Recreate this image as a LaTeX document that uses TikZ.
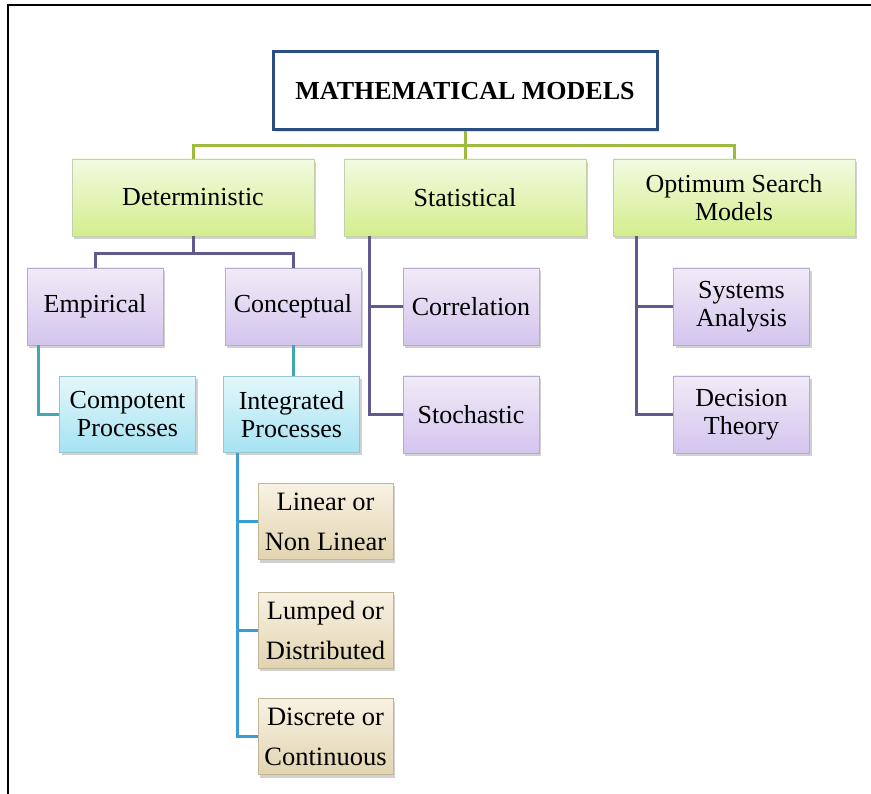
\documentclass[tikz,border=0pt]{standalone}
\usepackage{fontspec}
\setmainfont{Liberation Serif}
\usetikzlibrary{shadows}

% palette
\definecolor{titleB}{HTML}{2B4E82}
\definecolor{grnT}{HTML}{F3FAE2}
\definecolor{grnM}{HTML}{D3EE8C}
\definecolor{grnB}{HTML}{C5CFAE}
\definecolor{purT}{HTML}{F1EBF7}
\definecolor{purM}{HTML}{D4C4EE}
\definecolor{purB}{HTML}{B6ABCF}
\definecolor{bluT}{HTML}{E3F7FB}
\definecolor{bluM}{HTML}{A6E3F2}
\definecolor{bluB}{HTML}{98C6D0}
\definecolor{tanT}{HTML}{F8F2E3}
\definecolor{tanM}{HTML}{E2D4B0}
\definecolor{tanB}{HTML}{C2B696}
\definecolor{lineG}{HTML}{9DBB3F}
\definecolor{lineP}{HTML}{605A8E}
\definecolor{lineT}{HTML}{40A8AE}
\definecolor{lineB}{HTML}{3A9BD5}

\tikzset{
  basebox/.style={rectangle, inner sep=0pt, align=center,
    font=\fontsize{26}{28}\selectfont, line width=0.8pt,
    drop shadow={shadow xshift=2pt, shadow yshift=-3pt, opacity=0.3, fill=black!60}},
  titlebox/.style={rectangle, inner sep=0pt, align=center, fill=white,
    draw=titleB, line width=3pt, minimum width=384pt, minimum height=78pt,
    font=\fontsize{26}{26}\selectfont\bfseries,
    drop shadow={shadow xshift=2pt, shadow yshift=-2pt, opacity=0.2, fill=black!60}},
  greenbox/.style={basebox, minimum width=242pt, minimum height=77pt,
    draw=grnB, top color=grnT, bottom color=grnM},
  purplebox/.style={basebox, minimum width=136pt, minimum height=77pt,
    draw=purB, top color=purT, bottom color=purM},
  bluebox/.style={basebox, minimum width=136pt, minimum height=76pt,
    draw=bluB, top color=bluT, bottom color=bluM},
  tanbox/.style={basebox, minimum width=135pt, minimum height=76pt,
    font=\fontsize{26.5}{40}\selectfont,
    draw=tanB, top color=tanT, bottom color=tanM},
  link/.style={line width=3pt},
  glink/.style={link, draw=lineG},
  plink/.style={link, draw=lineP},
  tlink/.style={link, draw=lineT},
  blink/.style={link, draw=lineB},
  frameline/.style={line width=1.5pt, draw=black}
}

\begin{document}
\begin{tikzpicture}[x=1pt, y=-1pt]
  \useasboundingbox (0,0) rectangle (871,794);

  % outer frame (top and left edges)
  \coordinate (fbl) at (8,794);
  \coordinate (ftl) at (8,5);
  \coordinate (ftr) at (871,5);
  \draw[frameline] (fbl) -- (ftl) -- (ftr);

  % root
  \node[titlebox] (title) at (465,91) {MATHEMATICAL MODELS};

  % first level
  \node[greenbox] (det)  at (193,197.5) {Deterministic};
  \node[greenbox] (stat) at (465,197.5) {Statistical};
  \node[greenbox] (opt)  at (734,197.5) {Optimum Search\\Models};

  % deterministic branch
  \node[purplebox] (emp)  at (95,306.5)  {Empirical};
  \node[purplebox] (conc) at (293,306.5) {Conceptual};
  \node[bluebox]   (comp) at (127.5,414.5) {Compotent\\Processes};
  \node[bluebox]   (integ) at (291.5,414.5) {Integrated\\Processes};
  \node[tanbox] (lin) at (325.5,521.5) {Linear or\\Non Linear};
  \node[tanbox] (lum) at (325.5,630)   {Lumped or\\Distributed};
  \node[tanbox] (dis) at (325.5,736.5) {Discrete or\\Continuous};

  % statistical branch
  \node[purplebox] (corr)  at (471,306.5) {Correlation};
  \node[purplebox] (stoch) at (471,414.5) {Stochastic};

  % optimum search branch
  \node[purplebox] (sys) at (741.5,306.5) {Systems\\Analysis};
  \node[purplebox] (dec) at (741.5,414.5) {Decision\\Theory};

  % root to first level
  \draw[glink] (title.south) -- ++(0,14) coordinate (gbus);
  \draw[glink] (gbus) -| (det.north);
  \draw[glink] (gbus) -| (opt.north);
  \draw[glink] (gbus) -- (stat.north);

  % deterministic connectors
  \draw[plink] (det.south) -- ++(0,17) coordinate (pbus);
  \draw[plink] (pbus) -| (emp.north);
  \draw[plink] (pbus) -| (conc.north);
  \draw[tlink] ([xshift=12pt]emp.south west) |- (comp.west);
  \draw[tlink] (conc.south) -- (conc.south |- integ.north);
  \draw[blink] ([xshift=14pt]integ.south west) |- (dis.west);
  \draw[blink] ([xshift=14pt]integ.south west |- lin.west) -- (lin.west);
  \draw[blink] ([xshift=14pt]integ.south west |- lum.west) -- (lum.west);

  % statistical connectors
  \draw[plink] ([xshift=26pt]stat.south west) |- (stoch.west);
  \draw[plink] ([xshift=26pt]stat.south west |- corr.west) -- (corr.west);

  % optimum search connectors
  \draw[plink] ([xshift=24pt]opt.south west) |- (dec.west);
  \draw[plink] ([xshift=24pt]opt.south west |- sys.west) -- (sys.west);
\end{tikzpicture}
\end{document}
